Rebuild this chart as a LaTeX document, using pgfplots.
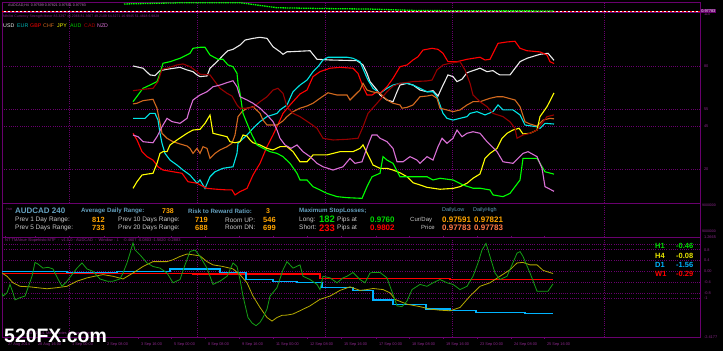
\documentclass[border=0pt]{standalone}
\usepackage{fontspec}
\setmainfont{Liberation Sans}
\usepackage{pgfplots}
\pgfplotsset{compat=1.18}
\definecolor{frm}{RGB}{105,0,110}
\definecolor{grd}{RGB}{105,0,110}
\definecolor{txp}{RGB}{140,40,140}
\definecolor{usdc}{RGB}{235,235,235}
\definecolor{eurc}{RGB}{0,230,230}
\definecolor{gbpc}{RGB}{255,0,0}
\definecolor{chfc}{RGB}{210,105,30}
\definecolor{jpyc}{RGB}{255,255,0}
\definecolor{audc}{RGB}{0,255,0}
\definecolor{cadc}{RGB}{150,0,0}
\definecolor{nzdc}{RGB}{218,112,214}
\definecolor{h1c}{RGB}{20,160,20}
\definecolor{h4c}{RGB}{180,170,0}
\definecolor{d1c}{RGB}{0,180,255}
\definecolor{lbl}{RGB}{100,160,190}
\definecolor{sil}{RGB}{200,200,200}
\definecolor{org}{RGB}{255,165,0}
\definecolor{cor}{RGB}{255,120,70}
\newcommand{\fs}[1]{\fontsize{#1}{#1}\selectfont}
\pgfplotsset{mt/.style={scale only axis, width=698bp, xmin=2, xmax=700,
  axis line style={draw=frm, line width=0.9bp}, major tick length=0pt, tick style={draw=none},
  yticklabel pos=right, ticklabel style={font=\fs{3.9}, text=txp},
  yticklabel style={anchor=west, xshift=0.5bp},
  xtick={69,197,325,452,604}, xticklabels={}, xmajorgrids, ymajorgrids,
  grid style={draw=grd, line width=0.6bp, dash pattern=on 0.7bp off 1.5bp}}}
\begin{document}
\begin{tikzpicture}[x=1bp,y=1bp]
\useasboundingbox (0,0) rectangle (723,351);
\fill[black] (0,0) rectangle (723,351);
% price panel
\begin{axis}[mt, at={(2bp,338.5bp)}, anchor=south west, height=10.5bp, ymin=0.9693, ymax=1.029, ytick=\empty, ymajorgrids=false]
\addplot[white, line width=0.8bp] coordinates {(2,0.97783) (700,0.97783)};
\addplot[red, line width=0.8bp, dash pattern=on 2bp off 2bp] coordinates {(2,0.97783) (700,0.97783)};
\addplot[audc, line width=1.3bp, dash pattern=on 1.5bp off 0.8bp] coordinates {(124,1.0177) (150,1.021) (184,1.025) (240,1.025) (277,0.9963) (320,0.992) (369,0.9889) (415,0.9809) (461,0.9790) (554,0.9782)};
\end{axis}
% strength panel
\begin{axis}[mt, at={(2bp,148bp)}, anchor=south west, height=190.5bp, ymin=0.19, ymax=111.16,
  ytick={20,45,55,80}, yticklabels={20,45,55,80}, extra y ticks={0,110}, extra y tick labels={0,110}, extra y tick style={grid=none}]
\addplot[usdc, line width=1.1bp] coordinates {(133,80.0) (143,78.7) (150,74.8) (155,74.4) (160,77.3) (167,78.1) (180,79.2) (187,77.7) (193,76.7) (197,74.8) (200,73.8) (207,74.2) (210,78.7) (217,82.5) (225,87.4) (228,88.9) (233,89.7) (240,92.2) (245,95.1) (253,96.1) (260,96.7) (267,96.1) (273,91.2) (280,88.3) (283,86.8) (287,88.3) (290,88.3) (310,88.9) (317,83.9) (330,83.5) (357,83.1) (363,80.6) (367,75.7) (370,70.9) (377,66.0) (380,63.1) (387,60.2) (393,59.2) (397,65.0) (400,68.9) (407,69.9) (413,68.9) (420,66.0) (427,65.0) (433,65.6) (438,62.5) (443,68.9) (448,74.8) (453,73.8) (457,70.9) (462,72.3) (467,76.1) (480,78.7) (487,76.7) (493,77.3) (497,75.7) (500,74.8) (510,74.8) (520,82.5) (527,84.5) (540,86.8) (548,87.4) (554,83.3)};
\addplot[eurc, line width=1.1bp] coordinates {(133,49.5) (145,49.5) (150,52.4) (155,52.4) (158,48.5) (160,40.8) (162,35.0) (165,29.1) (170,25.2) (177,22.3) (183,19.4) (190,16.5) (197,11.7) (200,13.6) (205,8.7) (210,15.5) (215,18.4) (223,20.4) (233,21.3) (237,29.1) (238,35.0) (247,39.8) (253,43.7) (260,47.6) (267,50.5) (277,52.4) (280,54.4) (287,57.3) (293,65.0) (300,68.9) (307,71.8) (313,76.7) (318,79.6) (323,83.5) (328,85.1) (347,85.1) (353,84.5) (360,82.5) (365,75.7) (368,71.8) (373,67.0) (380,64.1) (387,67.0) (393,68.9) (400,69.9) (407,69.9) (413,68.9) (420,67.0) (427,65.0) (433,65.0) (437,62.1) (440,57.3) (443,52.4) (447,49.5) (453,48.5) (460,49.5) (467,50.5) (470,52.4) (477,53.4) (485,51.5) (493,53.4) (498,57.3) (503,54.4) (513,54.4) (520,51.5) (525,45.6) (537,44.6) (540,43.7) (545,46.6) (554,46.2)};
\addplot[gbpc, line width=1.1bp] coordinates {(133,40.8) (137,36.9) (142,30.1) (147,27.2) (153,25.2) (158,21.3) (163,19.4) (173,18.4) (182,17.5) (188,12.6) (197,11.7) (207,8.7) (217,8.2) (227,7.8) (232,7.8) (235,4.9) (240,6.8) (247,8.7) (253,16.5) (260,23.3) (267,33.0) (273,39.8) (280,48.5) (283,52.4) (290,57.3) (300,63.7) (307,66.0) (313,73.8) (320,76.7) (330,78.7) (340,79.2) (353,78.7) (358,75.7) (363,67.9) (367,63.1) (372,63.1) (377,65.0) (380,64.1) (387,67.9) (393,72.8) (400,79.6) (407,80.6) (413,83.5) (418,85.4) (423,89.3) (432,90.3) (438,89.7) (443,87.4) (448,82.5) (457,82.5) (467,83.9) (480,85.1) (485,83.5) (490,83.9) (498,93.2) (507,94.0) (515,94.4) (520,90.3) (527,88.9) (540,88.2) (547,86.4) (550,82.5) (554,81.4)};
\addplot[chfc, line width=1.1bp] coordinates {(133,57.9) (137,58.3) (143,59.8) (153,60.6) (157,55.4) (162,40.8) (167,37.9) (173,35.9) (180,34.6) (187,33.4) (190,32.0) (193,29.1) (197,32.0) (200,29.1) (203,33.0) (207,32.0) (210,26.2) (215,29.1) (220,31.1) (227,33.0) (232,35.0) (235,39.8) (238,50.5) (242,53.4) (247,55.4) (253,56.3) (260,52.4) (263,48.5) (267,45.6) (277,45.6) (283,48.0) (287,50.5) (293,53.4) (300,55.4) (307,56.7) (313,58.3) (320,61.2) (328,64.4) (337,63.1) (347,63.1) (350,60.2) (355,63.1) (360,66.0) (363,69.9) (367,66.0) (372,65.0) (380,64.1) (387,60.2) (393,58.3) (400,57.3) (402,55.4) (407,55.9) (413,57.3) (420,62.1) (427,62.5) (432,63.1) (437,61.2) (440,55.4) (447,54.4) (453,53.4) (460,54.4) (467,57.3) (473,59.2) (480,59.2) (490,61.2) (497,62.1) (503,62.1) (515,60.2) (520,56.3) (525,47.5) (530,46.2) (537,45.0) (543,48.5) (550,49.5) (554,49.2)};
\addplot[jpyc, line width=1.1bp] coordinates {(133,8.7) (137,12.6) (142,16.5) (148,17.1) (153,17.5) (157,23.3) (160,29.1) (163,30.1) (167,30.1) (170,34.0) (177,36.9) (187,40.8) (193,42.7) (200,43.1) (205,46.6) (210,51.4) (213,40.8) (220,39.8) (227,38.8) (230,35.9) (235,35.3) (240,35.9) (243,39.8) (247,39.2) (250,36.9) (253,35.3) (260,34.0) (267,32.0) (273,31.1) (280,33.0) (287,33.0) (293,30.1) (300,24.2) (307,24.2) (313,28.2) (327,28.2) (340,30.1) (353,30.1) (360,32.0) (363,34.0) (368,28.2) (373,22.3) (380,20.4) (387,20.4) (393,19.4) (400,17.8) (407,15.5) (413,12.0) (420,10.7) (427,9.3) (440,8.2) (453,8.7) (460,9.7) (467,11.7) (473,14.6) (480,17.1) (485,26.2) (490,29.1) (497,32.0) (502,37.9) (507,40.8) (513,42.7) (519,43.7) (523,40.4) (530,40.8) (537,42.7) (540,50.5) (547,56.3) (554,64.3)};
\addplot[audc, line width=1.1bp] coordinates {(133,59.2) (138,63.1) (143,67.0) (150,68.9) (157,70.9) (160,75.7) (163,81.6) (170,82.5) (180,84.5) (190,87.4) (193,90.3) (200,90.9) (205,90.9) (210,86.4) (218,83.9) (223,83.9) (228,80.6) (233,79.6) (237,75.7) (238,69.9) (240,64.1) (243,52.4) (247,46.6) (252,39.8) (257,34.0) (263,32.1) (270,30.1) (277,29.1) (283,27.2) (290,23.3) (297,17.5) (300,13.6) (307,13.6) (313,9.7) (320,7.8) (327,5.8) (337,3.9) (347,3.3) (362,2.9) (367,9.7) (372,15.5) (380,17.5) (383,27.2) (387,25.2) (393,23.3) (400,15.5) (407,15.5) (427,15.5) (433,13.6) (440,14.6) (453,13.6) (463,10.7) (473,8.8) (480,8.8) (490,7.8) (493,4.9) (503,3.9) (510,5.8) (515,9.7) (520,13.6) (523,26.2) (537,26.2) (540,23.3) (545,18.4) (554,17.0)};
\addplot[cadc, line width=1.1bp] coordinates {(133,65.6) (143,66.4) (153,67.0) (158,70.9) (162,78.1) (167,78.7) (177,80.6) (183,81.2) (190,79.6) (197,76.7) (200,75.2) (210,74.8) (215,70.9) (220,67.0) (227,64.1) (232,62.5) (237,57.3) (240,55.4) (247,55.4) (253,55.9) (260,59.2) (267,62.1) (273,66.0) (278,67.0) (283,64.1) (287,56.3) (293,52.4) (300,50.5) (310,46.6) (317,43.7) (323,37.9) (333,36.9) (347,37.3) (358,37.9) (363,44.6) (368,52.4) (377,58.3) (387,65.0) (393,68.3) (400,69.9) (413,70.9) (427,71.3) (432,71.8) (437,77.7) (443,80.6) (450,81.6) (460,82.5) (465,77.7) (470,69.9) (473,63.1) (480,59.2) (487,56.3) (493,52.4) (503,50.5) (510,47.5) (515,43.7) (517,37.9) (523,39.8) (530,40.8) (537,42.7) (542,46.6) (547,50.5) (554,51.5)};
\addplot[nzdc, line width=1.1bp] coordinates {(133,39.8) (138,38.8) (143,35.9) (153,35.3) (157,38.8) (162,44.6) (167,49.5) (172,47.6) (180,46.6) (187,49.5) (190,55.4) (193,60.2) (200,63.1) (207,65.0) (213,67.9) (220,68.9) (227,70.3) (233,71.4) (237,67.9) (240,62.1) (247,60.2) (253,58.3) (260,55.4) (267,51.5) (273,47.6) (277,42.7) (280,37.9) (285,34.0) (291,32.0) (297,34.0) (303,30.1) (310,27.2) (317,23.3) (323,21.3) (333,19.4) (343,21.3) (350,26.2) (355,23.3) (362,24.2) (368,34.0) (372,39.8) (377,39.8) (380,37.9) (387,35.9) (393,32.0) (397,24.2) (403,24.2) (410,27.2) (417,25.2) (420,23.3) (427,27.2) (433,25.2) (438,33.0) (442,37.9) (447,35.0) (453,37.9) (457,42.7) (462,38.8) (467,40.8) (473,41.7) (480,40.8) (487,35.9) (497,30.1) (503,24.2) (513,23.3) (523,29.1) (528,30.1) (537,27.2) (542,20.4) (545,9.7) (554,7.0)};
\end{axis}
% oscillator panel
\begin{axis}[mt, at={(2bp,14bp)}, anchor=south west, height=100bp, ymin=-2.4177, ymax=1.2665,
  ytick={-1,-0.8,-0.4,0,0.4,0.8,1}, yticklabels={-1,-0.8,-0.4,0.00,0.4,0.8,{}},
  extra y ticks={1.2665,-2.4177}, extra y tick labels={1.2665,-2.4177}, extra y tick style={grid=none},
  extra x ticks={5,35,69,104,138,171,205,239,273,307,341,376,409,443,477,511,544},
  extra x tick labels={27 Aug 2014,28 Aug 16:00,1 Sep 00:00,2 Sep 08:00,3 Sep 16:00,5 Sep 00:00,8 Sep 08:00,9 Sep 16:00,11 Sep 00:00,12 Sep 08:00,15 Sep 16:00,17 Sep 00:00,18 Sep 08:00,19 Sep 16:00,23 Sep 00:00,24 Sep 08:00,25 Sep 16:00},
  extra x tick style={grid=none, xticklabel style={anchor=north west, xshift=-0.5bp, yshift=-1.2bp}, major tick length=1.5bp, tick align=outside, tick style={draw=frm, line width=0.5bp}}]
\addplot[const plot, gbpc, line width=1.3bp] coordinates {(2,-0.08) (193,-0.10) (320,-0.27) (450,-0.29) (553,-0.29)};
\addplot[const plot, d1c, line width=1.3bp] coordinates {(2,0.0) (67,-0.04) (117,0.0) (170,0.09) (220,-0.04) (246,-0.30) (273,-0.36) (297,-0.42) (322,-0.60) (353,-0.70) (373,-1.05) (393,-1.21) (426,-1.39) (450,-1.43) (476,-1.51) (525,-1.56) (553,-1.56)};
\addplot[h4c, line width=0.8bp] coordinates {(2,-0.06) (7,-0.18) (13,-0.42) (20,-0.55) (30,-0.57) (37,-0.60) (47,-0.64) (57,-0.60) (67,-0.55) (77,-0.36) (87,-0.24) (97,-0.16) (103,-0.12) (113,-0.18) (123,-0.28) (133,-0.06) (143,0.18) (153,0.36) (167,0.36) (173,0.43) (180,0.55) (187,0.64) (193,0.61) (200,0.57) (207,0.36) (213,0.24) (223,0.18) (233,0.09) (240,-0.12) (247,-0.42) (253,-0.91) (260,-1.33) (267,-1.70) (272,-1.83) (277,-1.70) (282,-1.62) (287,-1.61) (293,-1.57) (300,-1.45) (310,-1.27) (320,-1.03) (330,-0.91) (340,-0.70) (350,-0.57) (360,-0.70) (367,-0.67) (373,-0.63) (383,-0.67) (390,-0.79) (395,-1.03) (407,-1.21) (420,-1.30) (430,-1.39) (440,-1.43) (450,-1.45) (460,-1.33) (470,-0.91) (480,-0.55) (490,-0.42) (500,-0.18) (510,0.06) (517,0.31) (523,0.33) (530,0.24) (537,0.24) (543,0.04) (553,-0.08)};
\addplot[h1c, line width=0.8bp] coordinates {(2,-0.79) (3,-0.91) (7,-0.79) (10,-0.48) (13,-0.79) (15,-1.05) (20,-0.97) (25,-0.91) (28,-0.60) (32,-0.18) (35,0.33) (38,0.27) (43,0.12) (48,0.15) (53,0.09) (58,-0.28) (62,-0.55) (67,-0.36) (72,-0.12) (77,0.12) (82,0.31) (87,0.09) (93,0.0) (100,-0.28) (107,-0.36) (113,-0.36) (120,-0.28) (123,-0.06) (127,0.31) (130,0.67) (133,1.05) (135,0.79) (140,0.61) (147,0.31) (153,0.18) (160,0.12) (167,-0.06) (173,-0.42) (180,-0.30) (185,0.24) (190,0.73) (195,0.79) (200,0.55) (207,0.12) (213,-0.48) (220,-0.36) (227,-0.18) (233,0.31) (237,0.18) (240,-0.30) (243,-0.91) (248,-1.70) (252,-1.90) (256,-2.0) (260,-1.88) (263,-1.70) (267,-1.39) (270,-0.91) (277,-0.60) (283,0.06) (287,0.36) (293,0.12) (300,0.24) (303,-0.18) (310,-0.30) (317,-0.48) (320,-0.67) (323,-0.18) (330,-0.24) (337,-0.42) (343,-0.24) (347,-0.18) (353,-0.04) (360,-0.30) (365,-0.42) (370,-0.06) (373,-0.04) (380,-0.04) (387,-0.24) (393,-0.85) (397,-1.27) (402,-1.30) (407,-1.09) (412,-0.67) (420,-0.48) (427,-0.55) (433,-0.42) (440,-0.30) (447,-0.42) (453,-0.48) (460,-0.67) (467,-0.55) (473,-0.18) (478,0.31) (482,0.79) (486,1.03) (490,0.55) (495,-0.06) (500,-0.30) (507,-0.18) (512,0.24) (517,0.67) (520,0.73) (523,0.55) (530,-0.06) (537,-0.73) (543,-0.73) (548,-0.73) (553,-0.46)};
\end{axis}
% info panel frame
\draw[frm, line width=0.9bp] (2,114) rectangle (700,148);
\draw[grd, line width=0.6bp, dash pattern=on 0.7bp off 1.5bp] (604,114) -- (604,148);
% texts top
\node[anchor=west, inner sep=0, font=\fs{3.6}, text=txp!60!white] at (8,346) {AUDCAD,H4\ \ 0.97599 0.97821 0.97591 0.97783};
\node[anchor=west, inner sep=0.6bp, fill=frm, text=white, font=\fs{3.9}] at (700.5,340) {0.97783};
\node[anchor=west, inner sep=0, font=\fs{3.5}, text=txp] at (3,334) {Nihilist Currency Strength Meter 83.3297 46.2066 81.3667 49.2109 64.3271 16.9945 51.4818 6.9828};
\begin{scope}[every node/.style={anchor=west, inner sep=0, font=\fs{5.3}}]
\node[text=usdc] at (3,325.3) {USD};
\node[text=eurc!80!black] at (17,325.3) {EUR};
\node[text=gbpc] at (30,325.3) {GBP};
\node[text=chfc] at (43,325.3) {CHF};
\node[text=jpyc] at (57,325.3) {JPY};
\node[text=audc!80!black] at (70,325.3) {AUD};
\node[text=cadc!80!red] at (84,325.3) {CAD};
\node[text=nzdc] at (97,325.3) {NZD};
\end{scope}
% info panel texts
\begin{scope}[every node/.style={anchor=west, inner sep=0}]
\node[font=\fs{3}, text=txp] at (6,142) {TSR};
\node[font=\fs{8}\bfseries, text=lbl] at (15,140) {AUDCAD 240};
\node[font=\fs{6.2}\bfseries, text=lbl] at (81,140) {Average Daily Range:};
\node[font=\fs{7}\bfseries, text=org] at (162,140) {738};
\node[font=\fs{6.2}\bfseries, text=lbl] at (188,140) {Risk to Reward Ratio:};
\node[font=\fs{7}\bfseries, text=org] at (266,140) {3};
\node[font=\fs{6.2}\bfseries, text=lbl] at (299,140) {Maximum StopLosses;};
\node[font=\fs{6.5}, text=sil] at (15,131) {Prev 1 Day Range:};
\node[font=\fs{7.5}\bfseries, text=org] at (92,131) {812};
\node[font=\fs{6.5}, text=sil] at (118,131) {Prev 10 Days Range:};
\node[font=\fs{7.5}\bfseries, text=org] at (195,131) {719};
\node[font=\fs{6.5}, text=sil] at (225,131) {Room UP:};
\node[font=\fs{7.5}\bfseries, text=org] at (263,131) {546};
\node[font=\fs{6.5}, text=sil] at (299,131) {Long:};
\node[font=\fs{9.5}\bfseries, text=audc!85!black] at (319,131.5) {182};
\node[font=\fs{6.5}, text=sil] at (337,131) {Pips at};
\node[font=\fs{8}\bfseries, text=audc!85!black] at (370,131) {0.9760};
\node[font=\fs{6.5}, text=sil] at (15,123.5) {Prev 5 Days Range:};
\node[font=\fs{7.5}\bfseries, text=org] at (92,123.5) {733};
\node[font=\fs{6.5}, text=sil] at (118,123.5) {Prev 20 Days Range:};
\node[font=\fs{7.5}\bfseries, text=org] at (195,123.5) {688};
\node[font=\fs{6.5}, text=sil] at (225,123.5) {Room DN:};
\node[font=\fs{7.5}\bfseries, text=org] at (263,123.5) {699};
\node[font=\fs{6.5}, text=sil] at (299,123.5) {Short:};
\node[font=\fs{9.5}\bfseries, text=gbpc] at (319,123) {233};
\node[font=\fs{6.5}, text=sil] at (337,123.5) {Pips at};
\node[font=\fs{8}\bfseries, text=gbpc] at (370,123.5) {0.9802};
\node[font=\fs{5.5}, text=lbl] at (442,141) {DailyLow};
\node[font=\fs{5.5}, text=lbl] at (473,141) {DailyHigh};
\node[font=\fs{6}, text=sil] at (410,131) {Cur/Day};
\node[font=\fs{8}\bfseries, text=org] at (442,131) {0.97591};
\node[font=\fs{8}\bfseries, text=org] at (474,131) {0.97821};
\node[font=\fs{6}, text=sil] at (421,123.5) {Price};
\node[font=\fs{8}\bfseries, text=cor] at (442,123.5) {0.97783};
\node[font=\fs{8}\bfseries, text=cor] at (474,123.5) {0.97783};
\node[font=\fs{3.5}, text=txp] at (702,145.5) {9000000};
\node[font=\fs{3.5}, text=txp] at (702,120) {9000000};
% oscillator texts
\node[font=\fs{4}, text=txp] at (5,111) {NT TMAtrue Slopehisto MTF\ \ -\ \ v1.0.0\ -\ AUDCAD\ \ -\ \ Window : 1\ \ \ \ -0.4607 -0.0803 -1.5620 -0.2883};
\node[font=\fs{7.5}\bfseries, text=audc!85!black] at (655,105) {H1};
\node[font=\fs{7.5}\bfseries, text=audc!85!black] at (676,105) {-0.46};
\node[font=\fs{7.5}\bfseries, text=jpyc!90!black] at (655,95.3) {H4};
\node[font=\fs{7.5}\bfseries, text=jpyc!90!black] at (676,95.3) {-0.08};
\node[font=\fs{7.5}\bfseries, text=d1c] at (655,86.3) {D1};
\node[font=\fs{7.5}\bfseries, text=d1c] at (676,86.3) {-1.56};
\node[font=\fs{7.5}\bfseries, text=gbpc] at (655,77.3) {W1};
\node[font=\fs{7.5}\bfseries, text=gbpc] at (676,77.3) {-0.29};
\node[font=\fs{3.8}, text=txp] at (22,17.5) {\textcopyright\ 2001-2014, MetaQuotes Software Corp.};
\node[font=\fs{19.5}\bfseries, text=white] at (4,15) {520FX.com};
\end{scope}
\end{tikzpicture}
\end{document}
